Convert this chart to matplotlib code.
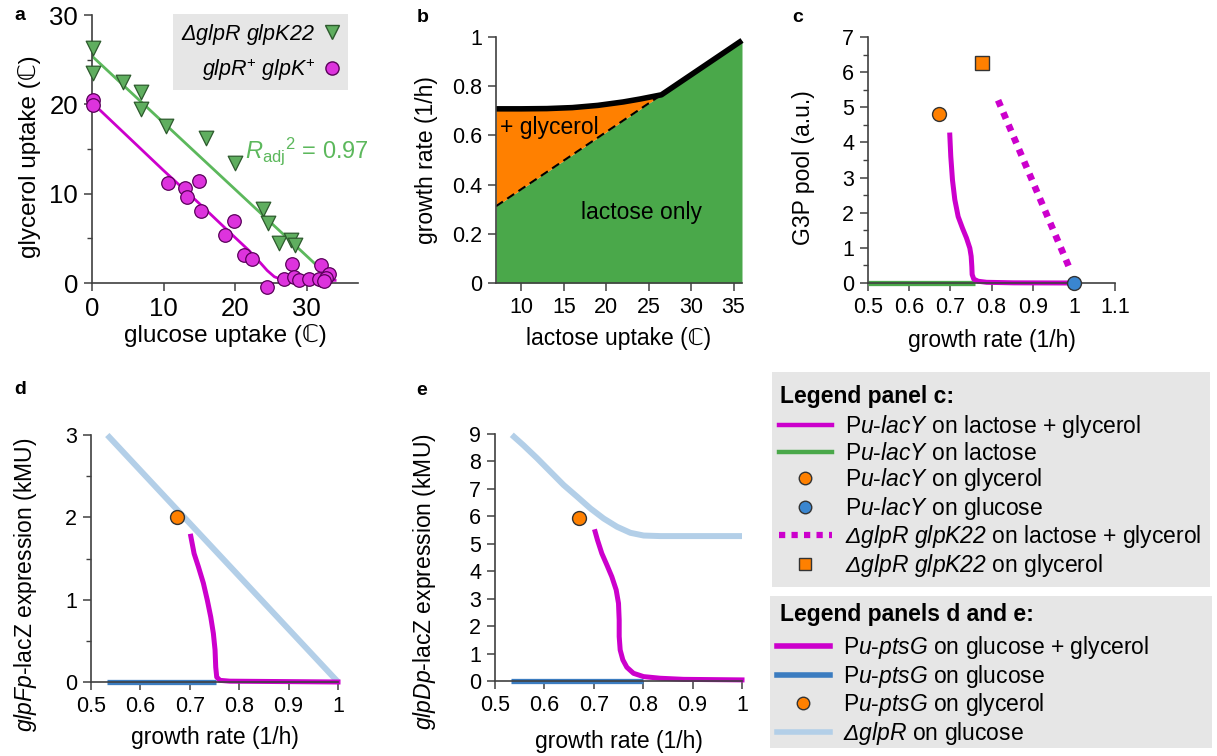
import numpy as np
import matplotlib
matplotlib.use('Agg')
import matplotlib.pyplot as plt
from matplotlib.lines import Line2D
from matplotlib.patches import Rectangle
from matplotlib.ticker import FormatStrFormatter, MultipleLocator

plt.rcParams['font.family'] = ['Liberation Sans', 'DejaVu Sans']
plt.rcParams['mathtext.fontset'] = 'custom'
plt.rcParams['mathtext.rm'] = 'Liberation Sans'
plt.rcParams['mathtext.it'] = 'Liberation Sans:italic'
plt.rcParams['mathtext.sf'] = 'Liberation Sans:italic'
plt.rcParams['mathtext.bf'] = 'Liberation Sans:bold'

# ---- panel a: glycerol vs glucose uptake
triX = [0.2, 0.2, 4.3, 6.9, 6.9, 10.3, 16.0, 20.0, 23.9, 24.6, 26.2, 27.8, 28.4]
triY = [26.3, 23.5, 22.5, 21.4, 19.5, 17.6, 16.2, 13.4, 8.3, 6.7, 4.5, 4.8, 4.2]
circX = [0.2, 0.2, 10.6, 13.0, 13.3, 14.9, 15.2, 18.6, 19.9, 21.3, 22.4,
         24.5, 26.8, 28.0, 28.2, 29.0, 30.4, 32.0, 32.1, 31.7, 33.1, 32.7, 32.4]
circY = [20.5, 19.9, 11.2, 10.6, 9.6, 11.4, 8.1, 5.4, 6.9, 3.1, 2.7,
         -0.4, 0.4, 2.1, 0.7, 0.35, 0.45, 2.0, 0.3, 0.5, 1.0, 0.6, 0.2]
fitGreenX = [0.0, 33.0]
fitGreenY = [25.4, 0.8]
fitMagX = [0.0, 5, 10, 15, 20, 22, 23.5, 24.5, 25.5, 26.5, 28, 34]
fitMagY = [20.2, 16.4, 12.6, 8.9, 5.1, 3.6, 2.3, 1.4, 0.7, 0.4, 0.3, 0.3]

# ---- panel b: growth rate vs lactose uptake
lacX = [7.0, 36.0]
lacY = [0.312, 0.986]
glyX = [7.0, 10, 13, 16, 19, 22, 24, 26.5]
glyY = [0.708, 0.708, 0.709, 0.713, 0.722, 0.736, 0.748, 0.765]

# ---- panel c: G3P pool
cMagX = [0.6987, 0.7011, 0.7052, 0.7109, 0.719, 0.7295, 0.7393, 0.7474, 0.7506,
         0.7522, 0.753, 0.757, 0.7676, 0.788, 0.853, 0.999]
cMagY = [4.21, 3.60, 2.93, 2.37, 1.89, 1.56, 1.28, 0.99, 0.76,
         0.47, 0.24, 0.11, 0.05, 0.02, 0.005, 0.0]
cGreenX = [0.5, 0.76]
cGreenY = [0.0, 0.0]
cDotX = [0.816, 0.991]
cDotY = [5.2, 0.38]
cGlyPt = (0.673, 4.82)
cSqPt = (0.777, 6.26)
cGluPt = (1.0, 0.0)

# ---- panel d: glpFp-lacZ
dLightX = [0.533, 1.0]
dLightY = [3.0, 0.0]
dMagX = [0.702, 0.7087, 0.7174, 0.7275, 0.7356, 0.7424, 0.7477, 0.7511, 0.7525,
         0.7545, 0.761, 0.781, 1.0]
dMagY = [1.77, 1.56, 1.40, 1.20, 0.99, 0.79, 0.59, 0.39, 0.18,
         0.06, 0.02, 0.01, 0.0]
dBlueX = [0.532, 0.754]
dBlueY = [0.0, 0.0]
dGlyPt = (0.674, 2.0)

# ---- panel e: glpDp-lacZ
eLightX = [0.534, 0.557, 0.585, 0.612, 0.639, 0.666, 0.693, 0.720, 0.747,
           0.774, 0.801, 0.835, 1.0]
eLightY = [8.97, 8.60, 8.12, 7.63, 7.14, 6.72, 6.29, 5.92, 5.62,
           5.40, 5.30, 5.28, 5.28]
eMagX = [0.7027, 0.7074, 0.7162, 0.7264, 0.7365, 0.7453, 0.750, 0.7514, 0.7514,
         0.7534, 0.7588, 0.7669, 0.7804, 0.8007, 0.8345, 0.8818, 1.0]
eMagY = [5.44, 5.14, 4.65, 4.23, 3.80, 3.32, 2.83, 2.22, 1.62,
         1.13, 0.77, 0.50, 0.28, 0.16, 0.10, 0.06, 0.04]
eBlueX = [0.532, 0.80]
eBlueY = [0.0, 0.0]
eGlyPt = (0.671, 5.95)

MAG = '#cc00cc'
GREEN = '#4aa84a'
ORANGE = '#ff8000'
LBLUE = '#b3cfe8'
DBLUE = '#3b7cc0'
CBLUE = '#3a86d0'
GRAY = '#e6e6e6'
SPINE = '#404040'

W, H = 1217, 756
fig = plt.figure(figsize=(W / 100, H / 100), dpi=100)


def px_axes(l, t, r, b):
    return fig.add_axes([l / W, 1 - b / H, (r - l) / W, (b - t) / H])


def style(ax, fs):
    for s in ['top', 'right']:
        ax.spines[s].set_visible(False)
    for s in ['left', 'bottom']:
        ax.spines[s].set_color(SPINE)
        ax.spines[s].set_linewidth(1.2)
    ax.tick_params(which='major', direction='out', length=6, width=1.1,
                   color=SPINE, labelsize=fs, pad=4)
    ax.tick_params(which='minor', direction='out', length=3.5, width=1.0, color=SPINE)


def labels(ax, xl, yl, fs, ylRight, ylMid, xlTop):
    ax.set_xlabel(xl, fontsize=fs)
    ax.set_ylabel(yl, fontsize=fs)
    pos = ax.get_position()
    ax.yaxis.set_label_coords(ylRight / W, 1 - ylMid / H, transform=fig.transFigure)
    ax.xaxis.set_label_coords(pos.x0 + pos.width / 2, 1 - xlTop / H, transform=fig.transFigure)


FS = 15.5
FSL = 16.5

# panel a
ax1 = px_axes(92, 15, 358, 283)
style(ax1, 18.5)
ax1.plot(fitGreenX, fitGreenY, color='#5cb85c', lw=2)
ax1.plot(fitMagX, fitMagY, color=MAG, lw=2)
ax1.scatter(triX, triY, marker='v', s=110, color='#5fae5f', edgecolor='#2d5a2d',
            linewidth=0.9, zorder=3, clip_on=False)
ax1.scatter(circX, circY, marker='o', s=95, color='#dd33dd', edgecolor='#5a005a',
            linewidth=0.9, zorder=3, clip_on=False)
ax1.set_xlim(0, 37.2)
ax1.set_ylim(0, 30)
ax1.set_xticks([0, 10, 20, 30])
ax1.set_yticks([0, 10, 20, 30])
ax1.yaxis.set_minor_locator(MultipleLocator(5))
ax1.text(21.4, 14.7, r'$\mathsf{R}_{\mathrm{adj}}{}^{2}$ = 0.97', color='#5cb85c',
         fontsize=17, ha='left', va='center')
labels(ax1, 'glucose uptake (ℂ)', 'glycerol uptake (ℂ)', 17.5, 41, 157, 324)
hA = [Line2D([], [], ls='none', marker='v', ms=10, mfc='#5fae5f', mec='#2d5a2d'),
      Line2D([], [], ls='none', marker='o', ms=9.5, mfc='#dd33dd', mec='#5a005a')]
legA = ax1.legend(hA, [r'$\mathsf{ΔglpR}$ $\mathsf{glpK22}$',
                       r'$\mathsf{glpR}^{+}$ $\mathsf{glpK}^{+}$'],
                  loc='upper right', bbox_to_anchor=(348 / W, 1 - 14 / H),
                  bbox_transform=fig.transFigure, markerfirst=False, fontsize=15.5,
                  handlelength=0.8, handletextpad=0.4, borderpad=0.35,
                  labelspacing=0.45, borderaxespad=0, fancybox=False,
                  facecolor=GRAY, edgecolor='none', framealpha=1)

# panel b
ax2 = px_axes(496, 37, 742, 283)
style(ax2, FS)
lx = np.array(lacX)
ly = np.array(lacY)
gx = np.array(glyX)
gy = np.array(glyY)
ax2.fill_between(lx, 0, ly, color=GREEN, lw=0)
ax2.fill_between(gx, np.interp(gx, lx, ly), gy, color=ORANGE, lw=0)
ax2.plot(gx, np.interp(gx, lx, ly), color='black', lw=1.5, ls=(0, (4, 2.5)))
topX = np.concatenate([gx, lx[1:]])
topY = np.concatenate([gy, ly[1:]])
ax2.plot(topX, topY, color='black', lw=4, solid_capstyle='butt', clip_on=False)
ax2.set_xlim(7, 36)
ax2.set_ylim(0, 1)
ax2.set_xticks([10, 15, 20, 25, 30, 35])
ax2.set_yticks([0, 0.2, 0.4, 0.6, 0.8, 1])
ax2.yaxis.set_major_formatter(FormatStrFormatter('%g'))
ax2.text(7.5, 0.634, '+ glycerol', fontsize=16.5, ha='left', va='center')
ax2.text(24.1, 0.285, 'lactose only', fontsize=16.5, ha='center', va='center')
labels(ax2, 'lactose uptake (ℂ)', 'growth rate (1/h)', FSL, 438, 160, 327)

# panel c
ax3 = px_axes(868, 37, 1115, 283)
style(ax3, FS)
ax3.plot(cGreenX, cGreenY, color=GREEN, lw=3.8, solid_capstyle='butt', clip_on=False)
ax3.plot(cMagX, cMagY, color=MAG, lw=3.6, clip_on=False)
ax3.plot(cDotX, cDotY, color=MAG, lw=4.8, ls=(0, (1, 1)), dash_capstyle='butt')
ax3.plot(*cGlyPt, marker='o', ms=10, mfc=ORANGE, mec='#333333', mew=1, ls='none',
         zorder=4, clip_on=False)
ax3.plot(*cSqPt, marker='s', ms=9.5, mfc=ORANGE, mec='#333333', mew=1, ls='none',
         zorder=4, clip_on=False)
ax3.plot(*cGluPt, marker='o', ms=10, mfc=CBLUE, mec='#333333', mew=1, ls='none',
         zorder=4, clip_on=False)
ax3.set_xlim(0.5, 1.1)
ax3.set_ylim(0, 7)
ax3.set_xticks(np.arange(0.5, 1.15, 0.1))
ax3.set_yticks(range(8))
ax3.yaxis.set_minor_locator(MultipleLocator(0.5))
ax3.xaxis.set_major_formatter(FormatStrFormatter('%g'))
labels(ax3, 'growth rate (1/h)', 'G3P pool (a.u.)', FSL, 815, 168, 329)

# panel d
ax4 = px_axes(91, 435, 338, 682)
style(ax4, FS)
ax4.plot(dLightX, dLightY, color=LBLUE, lw=4.3, solid_capstyle='butt', clip_on=False)
ax4.plot(dBlueX, dBlueY, color=DBLUE, lw=3.8, solid_capstyle='butt', clip_on=False)
ax4.plot(dMagX, dMagY, color=MAG, lw=3.6, clip_on=False)
ax4.plot(*dGlyPt, marker='o', ms=10, mfc=ORANGE, mec='#333333', mew=1, ls='none', zorder=4)
ax4.set_xlim(0.5, 1.0)
ax4.set_ylim(0, 3)
ax4.set_xticks(np.arange(0.5, 1.05, 0.1))
ax4.set_yticks([0, 1, 2, 3])
ax4.yaxis.set_minor_locator(MultipleLocator(0.5))
ax4.xaxis.set_major_formatter(FormatStrFormatter('%g'))
labels(ax4, 'growth rate (1/h)', r'$\mathsf{glpFp}$-lacZ expression (kMU)', FSL, 39, 585, 726)

# panel e
ax5 = px_axes(495, 434, 742, 681)
style(ax5, FS)
ax5.plot(eLightX, eLightY, color=LBLUE, lw=4.3, solid_capstyle='butt', clip_on=False)
ax5.plot(eBlueX, eBlueY, color=DBLUE, lw=3.8, solid_capstyle='butt', clip_on=False)
ax5.plot(eMagX, eMagY, color=MAG, lw=3.6, clip_on=False)
ax5.plot(*eGlyPt, marker='o', ms=10, mfc=ORANGE, mec='#333333', mew=1, ls='none', zorder=4)
ax5.set_xlim(0.5, 1.0)
ax5.set_ylim(0, 9)
ax5.set_xticks(np.arange(0.5, 1.05, 0.1))
ax5.set_yticks(range(10))
ax5.xaxis.set_major_formatter(FormatStrFormatter('%g'))
labels(ax5, 'growth rate (1/h)', r'$\mathsf{glpDp}$-lacZ expression (kMU)', FSL, 438, 582, 730)

# panel letters
for lab, x, y in [('a', 20, 16), ('b', 423, 17), ('c', 798, 17), ('d', 20, 389), ('e', 422, 390)]:
    fig.text(x / W, 1 - y / H, lab, fontsize=14, fontweight='bold', ha='center', va='center')

# legend boxes (drawn as plain grey panels, entries via fig.legend)
fig.add_artist(Rectangle((772 / W, 1 - 587 / H), 438 / W, (587 - 372) / H,
                         transform=fig.transFigure, color=GRAY, lw=0, zorder=0))
fig.add_artist(Rectangle((770 / W, 1 - 748 / H), 442 / W, (748 - 596) / H,
                         transform=fig.transFigure, color=GRAY, lw=0, zorder=0))
fig.text(780 / W, 1 - 396 / H, 'Legend panel c:', fontsize=16.5, fontweight='bold',
         ha='left', va='center')
fig.text(780 / W, 1 - 615 / H, 'Legend panels d and e:', fontsize=16.5, fontweight='bold',
         ha='left', va='center')

legKw = dict(loc='upper left', fontsize=16.5, handlelength=2.3, handletextpad=0.6,
             borderpad=0, labelspacing=0.07, borderaxespad=0, frameon=False)

hC = [Line2D([], [], color=MAG, lw=3.2),
      Line2D([], [], color=GREEN, lw=3.2),
      Line2D([], [], ls='none', marker='o', ms=9, mfc=ORANGE, mec='#333333'),
      Line2D([], [], ls='none', marker='o', ms=9, mfc=CBLUE, mec='#333333'),
      Line2D([], [], color=MAG, lw=4.5, ls=(0, (1, 1)), dash_capstyle='butt'),
      Line2D([], [], ls='none', marker='s', ms=8.5, mfc=ORANGE, mec='#333333')]
labC = [r'P$\mathsf{u}$-$\mathsf{lacY}$ on lactose + glycerol',
        r'P$\mathsf{u}$-$\mathsf{lacY}$ on lactose',
        r'P$\mathsf{u}$-$\mathsf{lacY}$ on glycerol',
        r'P$\mathsf{u}$-$\mathsf{lacY}$ on glucose',
        r'$\mathsf{ΔglpR}$ $\mathsf{glpK22}$ on lactose + glycerol',
        r'$\mathsf{ΔglpR}$ $\mathsf{glpK22}$ on glycerol']
fig.legend(hC, labC, bbox_to_anchor=(779 / W, 1 - 413 / H), **legKw)

hDE = [Line2D([], [], color=MAG, lw=4),
       Line2D([], [], color=DBLUE, lw=4),
       Line2D([], [], ls='none', marker='o', ms=9, mfc=ORANGE, mec='#333333'),
       Line2D([], [], color=LBLUE, lw=4)]
labDE = [r'P$\mathsf{u}$-$\mathsf{ptsG}$ on glucose + glycerol',
         r'P$\mathsf{u}$-$\mathsf{ptsG}$ on glucose',
         r'P$\mathsf{u}$-$\mathsf{ptsG}$ on glycerol',
         r'$\mathsf{ΔglpR}$ on glucose']
fig.legend(hDE, labDE, bbox_to_anchor=(777 / W, 1 - 634 / H), **legKw)

fig.savefig('out.png', dpi=100)
